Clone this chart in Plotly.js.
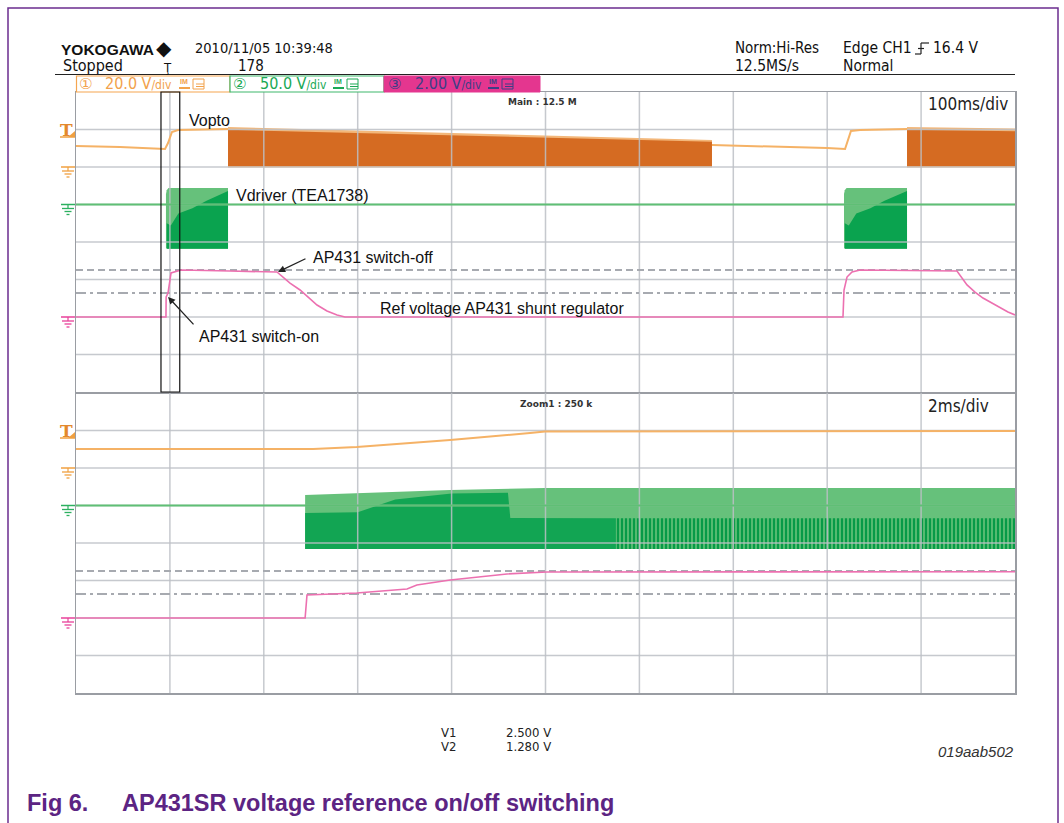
<!DOCTYPE html>
<html><head><meta charset="utf-8">
<script src="https://cdn.plot.ly/plotly-3.0.1.min.js"></script>
<style>html,body{margin:0;padding:0;background:#fff;}#chart{width:1064px;height:823px;}</style>
</head><body><div id="chart"></div>
<script>
// ================= DATA =================
const channelScales = ['20.0', '50.0', '2.00'];
const cursorV1 = 2.5;     // V (CH3)
const cursorV2 = 1.28;    // V (CH3)
const mainSpanMs = 1000;  // 100 ms/div x 10 div
const zoomSpanMs = 20;    // 2 ms/div x 10 div
const zoomStartMs = 90.5; // start of zoom window in main timebase

// ---- Main window (100 ms/div), time in ms ----
// CH1 Vopto (V)
const mainVoptoTime = [0, 46.9, 94.8, 98.0, 102.2, 108.6, 161.9, null, 677.3, 728.4, 799.8, 819.0, 822.2, 825.3, 835.0, 885.0];
const mainVoptoVolt = [11.2, 10.7, 9.6, 12.8, 18.7, 19.7, 20.3, null, 11.7, 11.2, 10.1, 9.6, 14.4, 19.2, 19.7, 20.3];
const mainVoptoBurst1Time = [161.9, 398.0, 558.0, 664.0, 677.3];
const mainVoptoBurst1Max  = [21.3, 18.1, 16.0, 14.4, 14.4];
const mainVoptoBurst1Core = [19.8, 16.9, 15.0, 13.5, 13.5];
const mainVoptoBurst2Time = [885.0, 1000.0];
const mainVoptoBurst2Max  = [21.3, 20.5];
const mainVoptoBurst2Core = [19.8, 19.1];
const mainVoptoBurstMin = -0.3;
const mainVoptoBurstCoreMin = 0.4;

// CH2 Vdriver (V)
const mainVdrvTime = [0, 1000];
const mainVdrvVolt = [0, 0];
const mainVdrvBurst1Time = [95.8, 96.6, 98.5, 161.9];
const mainVdrvBurst1Max  = [14, 19, 22, 22];
const mainVdrvBurst1Min  = [-57, -59, -59, -59];
const mainVdrvCore1Time  = [96.6, 101, 109, 124, 139, 158, 161.9];
const mainVdrvCore1Max   = [-25, -28, -12, -5, 5, 15, 18];
const mainVdrvBurst2Time = [817.9, 818.7, 820.6, 885.0];
const mainVdrvBurst2Max  = [14, 19, 22, 22];
const mainVdrvBurst2Min  = [-57, -59, -59, -59];
const mainVdrvCore2Time  = [818.7, 823, 831, 846, 861, 880, 885.0];
const mainVdrvCore2Max   = [-25, -28, -12, -5, 5, 15, 18];
const mainVdrvFloor = -59;

// CH3 AP431 reference (V)
const mainRefTime = [0, 95.8, 96.0, 98.0, 101.2, 111.8, 164.0, 214.0, 227.9, 238.6, 256.7, 267.3, 278.0, 286.5, 816.8, 817.9, 821.1, 826.4, 835.0, 938.2, 948.9, 957.4, 965.9, 975.5, 984.0, 992.5, 1000];
const mainRefVolt = [0, 0, 1.07, 1.28, 2.35, 2.51, 2.45, 2.40, 1.81, 1.44, 0.64, 0.32, 0.11, 0, 0, 1.44, 2.13, 2.40, 2.51, 2.45, 1.71, 1.33, 1.01, 0.75, 0.48, 0.27, 0.11];

// ---- Zoom window (2 ms/div), time in ms from window start ----
const zoomVoptoTime = [0, 5.05, 5.98, 7.97, 9.67, 9.99, 20];
const zoomVoptoVolt = [10.1, 10.1, 11.2, 14.9, 18.7, 19.5, 19.7];
const zoomVdrvTime = [0, 20];
const zoomVdrvVolt = [0, 0];
const zoomVdrvBurstTime = [4.88, 5.98, 7.97, 9.99, 20];
const zoomVdrvBurstMax  = [14, 16.7, 20.7, 23.3, 23.3];
const zoomVdrvCoreTime  = [4.88, 6.0, 6.8, 8.0, 9.2, 9.25, 11.5];
const zoomVdrvCoreMax   = [-10, -9, 8, 16, 17, -16.7, -17];
const zoomVdrvSparseTime = [11.5, 20];
const zoomVdrvSparseMax  = [-17, -17];
const zoomVdrvFloor = -58;
const zoomRefTime = [0, 4.88, 4.92, 5.98, 7.05, 7.26, 7.97, 9.18, 10.03, 20];
const zoomRefVolt = [0, 0, 1.23, 1.33, 1.55, 1.76, 2.03, 2.35, 2.45, 2.47];

// ================= LAYOUT HELPERS =================
const W = 1064, H = 823;
const px = x => x / W, py = y => 1 - y / H;
const NARROW = "'Liberation Sans Narrow','DejaVu Sans Condensed','Arial Narrow',sans-serif";
const SANS = "'Liberation Sans',Arial,Helvetica,sans-serif";
const C_OR = '#f2a24c';

function band(t, upper, lower) {
  const lo = Array.isArray(lower) ? lower : t.map(() => lower);
  return { x: t.concat(t.slice().reverse()), y: upper.concat(lo.slice().reverse()) };
}
function fillTrace(b, xa, ya, color, extra) {
  return Object.assign({ type: 'scatter', mode: 'lines', x: b.x, y: b.y, xaxis: xa, yaxis: ya,
    fill: 'toself', fillcolor: color, line: { width: 0, color: color }, hoverinfo: 'skip' }, extra || {});
}
function lineTrace(x, y, xa, ya, color, width, dash) {
  return { type: 'scatter', mode: 'lines', x, y, xaxis: xa, yaxis: ya,
    line: { color, width, dash: dash || 'solid' }, hoverinfo: 'skip', connectgaps: false };
}
function gridTrace(xa, ya, tMax, tStep, vMin, vMax, vStep) {
  const x = [], y = [];
  for (let t = tStep; t < tMax - 1e-9; t += tStep) { x.push(t, t, null); y.push(vMin, vMax, null); }
  for (let v = vMin + vStep; v < vMax - 1e-9; v += vStep) { x.push(0, tMax, null); y.push(v, v, null); }
  return { type: 'scatter', mode: 'lines', x, y, xaxis: xa, yaxis: ya,
    line: { color: 'rgba(188,191,198,0.85)', width: 1.5 }, hoverinfo: 'skip' };
}

const OR_LIGHT = '#f3b77a', OR_DARK = '#d56b22', GR_LIGHT = '#66c17b', GR_DARK = '#0aa34f';

const traces = [
  fillTrace(band(mainVoptoBurst1Time, mainVoptoBurst1Max, mainVoptoBurstMin), 'x', 'y', OR_LIGHT),
  fillTrace(band(mainVoptoBurst1Time, mainVoptoBurst1Core, mainVoptoBurstCoreMin), 'x', 'y', OR_DARK),
  fillTrace(band(mainVoptoBurst2Time, mainVoptoBurst2Max, mainVoptoBurstMin), 'x', 'y', OR_LIGHT),
  fillTrace(band(mainVoptoBurst2Time, mainVoptoBurst2Core, mainVoptoBurstCoreMin), 'x', 'y', OR_DARK),
  fillTrace(band(mainVdrvBurst1Time, mainVdrvBurst1Max, mainVdrvBurst1Min), 'x', 'y3', GR_LIGHT),
  fillTrace(band(mainVdrvCore1Time, mainVdrvCore1Max, mainVdrvFloor), 'x', 'y3', GR_DARK),
  fillTrace(band(mainVdrvBurst2Time, mainVdrvBurst2Max, mainVdrvBurst2Min), 'x', 'y3', GR_LIGHT),
  fillTrace(band(mainVdrvCore2Time, mainVdrvCore2Max, mainVdrvFloor), 'x', 'y3', GR_DARK),
  gridTrace('x', 'y3', mainSpanMs, 100, -250, 150, 50),
  lineTrace(mainVdrvTime, mainVdrvVolt, 'x', 'y3', '#5fbf75', 2),
  lineTrace(mainVoptoTime, mainVoptoVolt, 'x', 'y4', '#f5b266', 2),
  lineTrace([0, mainSpanMs], [cursorV1, cursorV1], 'x', 'y5', '#a7aab0', 2, '7px,4px'),
  lineTrace([0, mainSpanMs], [cursorV2, cursorV2], 'x', 'y5', '#a7aab0', 2, '10px,4px,3px,4px'),
  lineTrace(mainRefTime, mainRefVolt, 'x', 'y5', '#ec70b0', 1.6),

  fillTrace(band(zoomVdrvBurstTime, zoomVdrvBurstMax, zoomVdrvFloor), 'x2', 'y2', GR_LIGHT),
  fillTrace(band(zoomVdrvCoreTime, zoomVdrvCoreMax, zoomVdrvFloor), 'x2', 'y2', '#12a553'),
  fillTrace(band(zoomVdrvSparseTime, zoomVdrvSparseMax, zoomVdrvFloor), 'x2', 'y2', '#4fb96a',
    { fillpattern: { shape: '|', bgcolor: '#5dbe74', fgcolor: '#079a47', size: 4, solidity: 0.55 } }),
  gridTrace('x2', 'y2', zoomSpanMs, 2, -250, 150, 50),
  lineTrace(zoomVdrvTime, zoomVdrvVolt, 'x2', 'y2', '#5fbf75', 2),
  lineTrace(zoomVoptoTime, zoomVoptoVolt, 'x2', 'y6', '#f5b266', 2),
  lineTrace([0, zoomSpanMs], [cursorV1, cursorV1], 'x2', 'y7', '#a7aab0', 2, '7px,4px'),
  lineTrace([0, zoomSpanMs], [cursorV2, cursorV2], 'x2', 'y7', '#a7aab0', 2, '10px,4px,3px,4px'),
  lineTrace(zoomRefTime, zoomRefVolt, 'x2', 'y7', '#ec70b0', 1.6),
];

// ================= AXES =================
const xd = [px(76), px(1015)];
const topDom = [py(392), py(92)];
const botDom = [py(693), py(393)];
const base = { showgrid: false, zeroline: false, showticklabels: false, ticks: '', fixedrange: true };
const border = { showline: true, mirror: true, linecolor: '#9a9da3', linewidth: 1.5, layer: 'above traces' };
const ovl = (on, anchor, range) => Object.assign({}, base, { overlaying: on, anchor, range, visible: false });

// ================= SHAPES =================
const shapes = [];
const L = (x0, y0, x1, y1, color, width) => shapes.push({ type: 'line', xref: 'paper', yref: 'paper',
  x0: px(x0), y0: py(y0), x1: px(x1), y1: py(y1), line: { color, width: width || 1 } });
shapes.push({ type: 'rect', xref: 'paper', yref: 'paper', x0: px(8), x1: px(1058), y0: py(8), y1: py(840),
  line: { color: '#6b2d8f', width: 1.5 } });
L(55, 74.5, 1015, 74.5, '#222', 1);
shapes.push({ type: 'rect', xref: 'paper', yref: 'paper', x0: px(76.5), x1: px(230), y0: py(76), y1: py(92), line: { color: '#f5a650', width: 1.2 }, fillcolor: '#fff' });
shapes.push({ type: 'rect', xref: 'paper', yref: 'paper', x0: px(230), x1: px(384), y0: py(76), y1: py(92), line: { color: '#3fb76c', width: 1.2 }, fillcolor: '#fff' });
shapes.push({ type: 'rect', xref: 'paper', yref: 'paper', x0: px(384), x1: px(540), y0: py(76), y1: py(92), line: { color: '#e4368f', width: 1 }, fillcolor: '#e4368f' });
[[179, C_OR], [333, '#1aa955'], [488, '#3d3f86']].forEach(([x, c]) => {
  L(x, 88, x + 11, 88, c, 2);
  shapes.push({ type: 'rect', xref: 'paper', yref: 'paper', x0: px(x + 14), x1: px(x + 25), y0: py(79), y1: py(89), line: { color: c, width: 1 } });
  L(x + 17, 84, x + 25, 84, c, 1); L(x + 17, 86.5, x + 25, 86.5, c, 1);
});
shapes.push({ type: 'rect', xref: 'x', yref: 'y domain', x0: zoomStartMs, x1: zoomStartMs + zoomSpanMs, y0: 0, y1: 1,
  line: { color: '#111', width: 1.2 }, layer: 'above' });
function gnd(y, c) { L(61, y, 75, y, c, 1.5); L(68, y, 68, y + 4, c, 1.2); L(62, y + 4, 74, y + 4, c, 1.3); L(64.5, y + 7, 71.5, y + 7, c, 1.3); L(66.5, y + 10, 69.5, y + 10, c, 1.3); }
gnd(167, '#f0a040'); gnd(204.5, '#2db060'); gnd(317, '#e8409a');
gnd(468, '#f0a040'); gnd(505.5, '#2db060'); gnd(618, '#e8409a');
[137, 438].forEach(y => {
  L(60, y, 75, y, '#f0a040', 1.5);
  shapes.push({ type: 'path', xref: 'paper', yref: 'paper', path: `M${px(68)},${py(y)} L${px(75)},${py(y)} L${px(75)},${py(y - 6)} Z`, fillcolor: '#f0a040', line: { width: 0 } });
});
L(915, 54, 921, 54, '#222', 1.2); L(921, 54, 921, 43, '#222', 1.2); L(921, 43, 929, 43, '#222', 1.2); L(918, 48.5, 924, 48.5, '#222', 1.2);

// ================= ANNOTATIONS =================
function txt(text, x, y, size, color, family, extra) {
  return Object.assign({ text, xref: 'paper', yref: 'paper', x: px(x), y: py(y), xanchor: 'left', yanchor: 'middle',
    showarrow: false, borderpad: 0, font: { family: family || SANS, size, color } }, extra || {});
}
const annotations = [
  txt('<b>YOKOGAWA</b>', 60, 49, 15.5, '#111', SANS),
  txt('◆', 155, 48, 20, '#111', "'DejaVu Sans',sans-serif"),
  txt('2010/11/05 10:39:48', 194, 48, 14.5, '#111', NARROW),
  txt('Stopped', 62, 66, 16, '#111', NARROW),
  txt('Ţ', 162, 67, 13, '#111', NARROW),
  txt('178', 237, 66, 15, '#111', NARROW),
  txt('Norm:Hi-Res', 734, 48, 15, '#111', NARROW),
  txt('12.5MS/s', 734, 66, 15.5, '#111', NARROW),
  txt('Edge CH1', 842, 48, 15.5, '#111', NARROW),
  txt('16.4 V', 932, 48, 15.5, '#111', NARROW),
  txt('Normal', 842, 66, 15.5, '#111', NARROW),
  txt('①', 78, 84, 15, C_OR, "'DejaVu Sans',sans-serif"),
  txt(channelScales[0] + ' V<span style="font-size:12px">/div</span>', 104, 84, 16, C_OR, NARROW),
  txt('②', 232, 84, 15, '#1aa955', "'DejaVu Sans',sans-serif"),
  txt(channelScales[1] + ' V<span style="font-size:12px">/div</span>', 259, 84, 16, '#1aa955', NARROW),
  txt('③', 387, 84, 15, '#3d3f86', "'DejaVu Sans',sans-serif"),
  txt(channelScales[2] + ' V<span style="font-size:12px">/div</span>', 414, 84, 16, '#3d3f86', NARROW),
  txt('<b>IM</b>', 179, 81, 7, C_OR), txt('<b>IM</b>', 333, 81, 7, '#1aa955'), txt('<b>IM</b>', 488, 81, 7, '#3d3f86'),
  txt('<b>Main : 12.5 M</b>', 507, 102, 9, '#333', "'DejaVu Sans',sans-serif"),
  txt('100ms/div', 927, 104, 17, '#222', NARROW),
  txt('<b>Zoom1 : 250 k</b>', 519, 404, 9, '#333', "'DejaVu Sans',sans-serif"),
  txt('2ms/div', 927, 406, 17, '#222', NARROW),
  txt('<b>T</b>', 59, 130, 17, '#e3882c', "'DejaVu Serif',serif"),
  txt('<b>T</b>', 59, 431, 17, '#e3882c', "'DejaVu Serif',serif"),
  txt('Vopto', 188, 121, 16, '#111'),
  txt('Vdriver (TEA1738)', 235, 196, 16, '#111'),
  txt('AP431 switch-off', 312, 257, 16, '#111'),
  txt('Ref voltage AP431 shunt regulator', 379, 308, 16, '#111'),
  txt('AP431 switch-on', 198, 336, 16, '#111'),
  { text: ' ', font: { size: 1 }, xref: 'x', yref: 'y5', x: 215.1, y: 2.4, ax: 29, ay: -14,
    showarrow: true, arrowhead: 2, arrowsize: 1.1, arrowwidth: 1.3, arrowcolor: '#222' },
  { text: ' ', font: { size: 1 }, xref: 'x', yref: 'y5', x: 98.0, y: 1.07, ax: 27, ay: 29,
    showarrow: true, arrowhead: 2, arrowsize: 1.1, arrowwidth: 1.3, arrowcolor: '#222' },
  txt('V1', 440, 732, 13, '#222', NARROW),
  txt(cursorV1.toFixed(3) + ' V', 505, 732, 13, '#222', NARROW),
  txt('V2', 440, 746, 13, '#222', NARROW),
  txt(cursorV2.toFixed(3) + ' V', 505, 746, 13, '#222', NARROW),
  txt('<i>019aab502</i>', 937, 751, 15, '#333'),
  txt('<b>Fig 6.</b>', 26, 803, 23.5, '#5c2483'),
  txt('<b>AP431SR voltage reference on/off switching</b>', 121, 803, 23.5, '#5c2483'),
];

const layout = {
  width: W, height: H, margin: { l: 0, r: 0, t: 0, b: 0, pad: 0 },
  paper_bgcolor: '#fff', plot_bgcolor: '#fff', showlegend: false, hovermode: false,
  xaxis: Object.assign({}, base, border, { domain: xd, range: [0, mainSpanMs], anchor: 'y' }),
  xaxis2: Object.assign({}, base, border, { domain: xd, range: [0, zoomSpanMs], anchor: 'y2' }),
  yaxis: Object.assign({}, base, border, { domain: topDom, range: [-120, 40], anchor: 'x' }),
  yaxis2: Object.assign({}, base, border, { domain: botDom, range: [-250, 150], anchor: 'x2' }),
  yaxis3: ovl('y', 'x', [-250, 150]),
  yaxis4: ovl('y', 'x', [-120, 40]),
  yaxis5: ovl('y', 'x', [-4, 12]),
  yaxis6: ovl('y2', 'x2', [-120, 40]),
  yaxis7: ovl('y2', 'x2', [-4, 12]),
  shapes, annotations,
};
Plotly.newPlot('chart', traces, layout, { staticPlot: true, displayModeBar: false });
</script></body></html>
